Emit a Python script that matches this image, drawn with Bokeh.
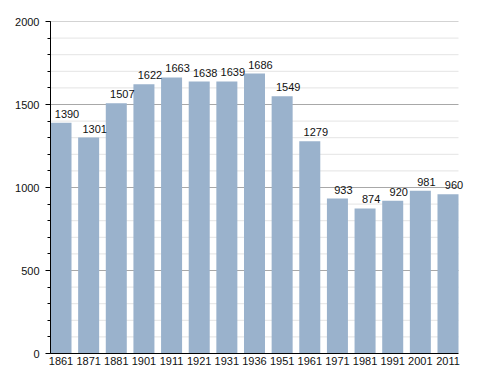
from bokeh.plotting import figure
from bokeh.models import ColumnDataSource, Range1d, FixedTicker, SingleIntervalTicker, LabelSet
from bokeh.core.properties import value
from bokeh.embed import file_html
from bokeh.resources import INLINE

years = ["1861", "1871", "1881", "1901", "1911", "1921", "1931", "1936",
         "1951", "1961", "1971", "1981", "1991", "2001", "2011"]
population = [1390, 1301, 1507, 1622, 1663, 1638, 1639, 1686,
              1549, 1279, 933, 874, 920, 981, 960]
y_ticks = [0, 500, 1000, 1500, 2000]

xs = list(range(len(years)))
bar_w = 0.76
src = ColumnDataSource(dict(x=xs, y=population, label=[str(v) for v in population]))

FONT = "Liberation Sans"

# frame is extended a bit to the right so the last value label is not clipped
plot_px = 408
extra_px = 14
x0 = -bar_w / 2
x1 = len(years) - 1 + bar_w / 2
x_end = x1 + extra_px * (x1 - x0) / plot_px

p = figure(frame_width=plot_px + extra_px, frame_height=332, output_backend="svg",
           toolbar_location=None,
           x_range=Range1d(x0, x_end),
           y_range=Range1d(0, 2000),
           min_border_left=50, min_border_right=4, min_border_top=21, min_border_bottom=18)
p.outline_line_color = None
p.background_fill_color = "white"
p.border_fill_color = "white"
p.xgrid.grid_line_color = None
p.ygrid.grid_line_color = None

# horizontal grid lines limited to the bar area
minor_y = [v for v in range(0, 2001, 100) if v % 500 != 0]
major_y = y_ticks[1:]
p.segment(x0=[x0] * len(minor_y), x1=[x1] * len(minor_y), y0=minor_y, y1=minor_y,
          line_color="#e4e4e4", line_width=1, level="underlay")
p.segment(x0=[x0] * len(major_y), x1=[x1] * len(major_y), y0=major_y, y1=major_y,
          line_color="#a8a8a8", line_width=1, level="underlay")

p.vbar(x="x", top="y", width=bar_w, source=src, fill_color="#9ab2cc", line_color=None)

# x axis baseline limited to bar area
p.segment(x0=[x0], x1=[x1], y0=[0], y1=[0], line_color="black", line_width=1,
          level="overlay")

labels = LabelSet(x="x", y="y", text="label", source=src, text_align="center",
                  text_baseline="alphabetic", x_offset=6, y_offset=5,
                  text_font=value(FONT), text_font_size=value("11px"),
                  text_color=value("#111111"))
p.add_layout(labels)

# x axis
p.xaxis.ticker = FixedTicker(ticks=xs)
p.xaxis.major_label_overrides = {i: y for i, y in enumerate(years)}
p.xaxis.major_tick_out = 0
p.xaxis.major_tick_in = 0
p.xaxis.minor_tick_out = 0
p.xaxis.axis_line_color = None
p.xaxis.major_label_standoff = 3
p.xaxis.major_label_text_font = FONT
p.xaxis.major_label_text_font_size = "11px"
p.xaxis.major_label_text_color = "#111111"

# y axis
p.yaxis.ticker = SingleIntervalTicker(interval=500, num_minor_ticks=5)
p.yaxis.major_tick_out = 5
p.yaxis.major_tick_in = 0
p.yaxis.minor_tick_out = 3
p.yaxis.minor_tick_in = 0
p.yaxis.axis_line_color = "black"
p.yaxis.major_tick_line_color = "black"
p.yaxis.minor_tick_line_color = "black"
p.yaxis.major_label_standoff = 6
p.yaxis.major_label_text_font = FONT
p.yaxis.major_label_text_font_size = "11px"
p.yaxis.major_label_text_color = "#111111"

open("out.html", "w").write(file_html(p, INLINE))
